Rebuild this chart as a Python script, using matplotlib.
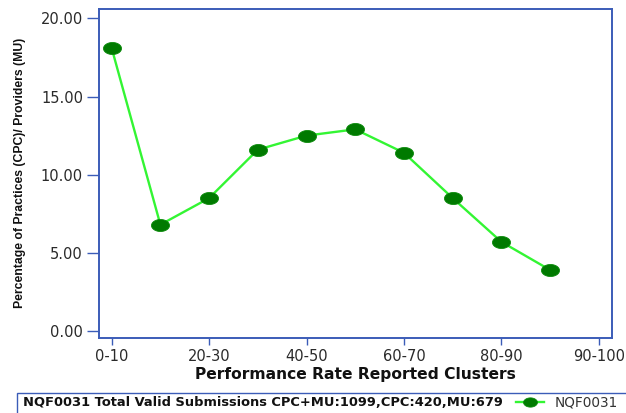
import matplotlib
matplotlib.use('Agg')
import matplotlib.pyplot as plt
import numpy as np
from matplotlib.path import Path
from matplotlib.patches import Rectangle
from matplotlib.lines import Line2D

# data
clusters = ['0-10', '10-20', '20-30', '30-40', '40-50', '50-60',
            '60-70', '70-80', '80-90', '90-100']
pct = [18.1, 6.8, 8.5, 11.6, 12.5, 12.9, 11.4, 8.5, 5.7, 3.9]
tick_pos = [0, 2, 4, 6, 8, 10]
tick_labels = ['0-10', '20-30', '40-50', '60-70', '80-90', '90-100']
y_ticks = [0, 5, 10, 15, 20]
legend_title = 'NQF0031 Total Valid Submissions CPC+MU:1099,CPC:420,MU:679'
series_name = 'NQF0031'

blue = '#3B5CB8'
line_green = '#33F533'
dot_green = '#007A00'

# wide ellipse marker, the reference looks horizontally stretched
t = np.linspace(0, 2 * np.pi, 40)
ell = Path(np.column_stack([1.5 * np.cos(t), np.sin(t)]), closed=True)

W, H = 626, 413
fig = plt.figure(figsize=(W / 100, H / 100), dpi=100)
ax = fig.add_axes([99 / W, 1 - 338 / H, (612 - 99) / W, (338 - 9) / H])

x = np.arange(len(clusters))
ax.plot(x, pct, color=line_green, linewidth=1.7, marker=ell, markersize=13,
        markerfacecolor=dot_green, markeredgecolor='#0A8A0A', markeredgewidth=0.6)

ax.set_xlim(-0.26, 10.27)
ax.set_ylim(-0.45, 20.6)
ax.set_xticks(tick_pos)
ax.set_xticklabels(tick_labels)
ax.set_yticks(y_ticks)
ax.set_yticklabels(['%.2f' % v for v in y_ticks])

for s in ax.spines.values():
    s.set_color(blue)
    s.set_linewidth(1.4)
ax.tick_params(axis='y', direction='out', length=8.5, width=1.0, color=blue,
               pad=3, labelsize=10.5, labelcolor='#2a2a2a')
ax.tick_params(axis='x', direction='out', length=5, width=1.0, color=blue,
               pad=3, labelsize=10.5, labelcolor='#2a2a2a')

fig.text(355.5 / W, 1 - 374 / H, 'Performance Rate Reported Clusters',
         ha='center', va='center', fontsize=11.2, fontweight='bold', color='#111111')
fig.text(20 / W, 1 - 173 / H, 'Percentage of Practices (CPC)/ Providers (MU)',
         ha='center', va='center', rotation=90, fontsize=8.8, fontweight='bold',
         color='#111111', family=['Liberation Sans', 'DejaVu Sans'])

# legend strip at the bottom
fig.patches.append(Rectangle((17 / W, -0.02), 1.0, 0.02 + (413 - 393) / H,
                             transform=fig.transFigure, fill=False,
                             edgecolor=blue, linewidth=1.0))
ly = 1 - 402 / H
fig.text(23 / W, ly, legend_title, ha='left', va='center', fontsize=9.4,
         fontweight='bold', color='#111111')
fig.lines.append(Line2D([516 / W, 544 / W], [ly, ly], transform=fig.transFigure,
                        color=line_green, linewidth=1.7))
fig.lines.append(Line2D([530 / W], [ly], transform=fig.transFigure, marker=ell,
                        markersize=10, markerfacecolor=dot_green,
                        markeredgecolor='#0A8A0A', markeredgewidth=0.6))
fig.text(555 / W, ly, series_name, ha='left', va='center', fontsize=9.8,
         color='#333333')

fig.savefig('out.png', dpi=100)
